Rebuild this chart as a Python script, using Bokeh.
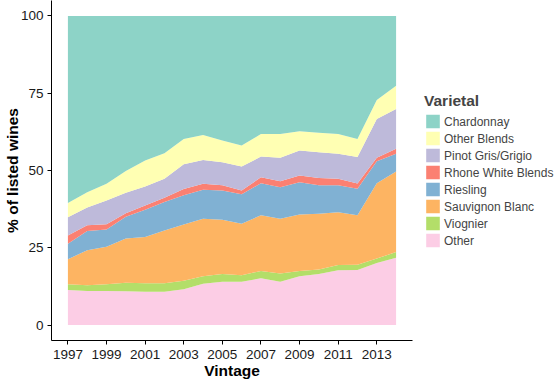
from bokeh.plotting import figure
from bokeh.models import ColumnDataSource, FixedTicker, Legend, LegendItem, Range1d
from bokeh.embed import file_html
from bokeh.resources import INLINE

years = list(range(1997, 2015))
other = [11.3, 11.0, 11.0, 10.9, 10.8, 10.8, 11.6, 13.4, 14.0, 14.0, 15.1, 14.0, 15.8, 16.5, 17.7, 17.8, 20.1, 21.8]
viognier = [1.9, 1.9, 2.2, 2.8, 2.7, 2.7, 2.7, 2.4, 2.5, 2.1, 2.4, 2.7, 1.7, 1.5, 1.7, 1.7, 1.4, 1.8]
sauvignon_blanc = [8.1, 11.3, 12.1, 14.3, 15.0, 17.1, 18.2, 18.6, 17.6, 16.7, 18.0, 17.7, 18.3, 18.0, 17.1, 16.0, 24.4, 26.1]
riesling = [5.0, 6.2, 5.6, 7.0, 8.8, 9.2, 9.5, 9.4, 9.4, 9.5, 10.4, 10.2, 10.4, 9.2, 8.7, 8.6, 7.1, 5.7]
rhone_white_blends = [2.7, 1.9, 1.7, 1.2, 1.4, 1.4, 2.0, 1.9, 1.7, 1.2, 1.9, 1.9, 2.2, 2.4, 2.1, 1.7, 1.1, 1.6]
pinot_gris_grigio = [5.9, 5.7, 7.7, 6.6, 6.1, 6.1, 8.0, 7.7, 7.5, 7.8, 6.7, 7.6, 8.1, 8.3, 8.1, 8.6, 12.6, 12.9]
other_blends = [4.6, 5.0, 5.4, 7.0, 8.4, 8.3, 8.2, 8.1, 7.0, 6.8, 7.3, 7.7, 6.2, 6.3, 6.4, 5.8, 6.1, 7.5]
chardonnay = [60.5, 57.0, 54.3, 50.2, 46.8, 44.4, 39.8, 38.5, 40.3, 41.9, 38.2, 38.2, 37.3, 37.8, 38.2, 39.8, 27.2, 22.6]

# stacking order bottom -> top
names = ["Other", "Viognier", "Sauvignon Blanc", "Riesling", "Rhone White Blends",
         "Pinot Gris/Grigio", "Other Blends", "Chardonnay"]
keys = ["other", "viognier", "sauvignon_blanc", "riesling", "rhone_white_blends",
        "pinot_gris_grigio", "other_blends", "chardonnay"]
colors = ["#FCCDE5", "#B3DE69", "#FDB462", "#80B1D3", "#FB8072", "#BEBADA", "#FFFFB3", "#8DD3C7"]
x_ticks = [1997, 1999, 2001, 2003, 2005, 2007, 2009, 2011, 2013]
y_ticks = [0, 25, 50, 75, 100]

source = ColumnDataSource(dict(
    year=years, other=other, viognier=viognier, sauvignon_blanc=sauvignon_blanc,
    riesling=riesling, rhone_white_blends=rhone_white_blends,
    pinot_gris_grigio=pinot_gris_grigio, other_blends=other_blends, chardonnay=chardonnay))

FONT = "Liberation Sans"

p = figure(frame_width=361, frame_height=340, output_backend="svg", toolbar_location=None,
           x_range=Range1d(1996.15, 2014.85), y_range=Range1d(-5, 105),
           min_border_left=0, min_border_top=0, min_border_bottom=0, min_border_right=0)

renderers = p.varea_stack(stackers=keys, x="year", color=colors, source=source)

p.xgrid.grid_line_color = None
p.ygrid.grid_line_color = None
p.outline_line_color = None
p.background_fill_color = "white"

for ax in (p.xaxis[0], p.yaxis[0]):
    ax.axis_line_color = "black"
    ax.axis_line_width = 1
    ax.major_tick_line_color = "black"
    ax.major_tick_out = 4
    ax.major_tick_in = 0
    ax.minor_tick_line_color = None
    ax.major_label_text_font = FONT
    ax.major_label_text_font_size = "13.5px"
    ax.major_label_text_color = "#1a1a1a"
    ax.axis_label_text_font = FONT
    ax.axis_label_text_font_size = "15.5px"
    ax.axis_label_text_font_style = "bold"
    ax.axis_label_text_color = "black"

p.xaxis.axis_label_standoff = 0
p.yaxis.axis_label_standoff = -3
p.xaxis.major_label_standoff = 5
p.yaxis.major_label_standoff = 4
p.xaxis.ticker = FixedTicker(ticks=x_ticks)
p.yaxis.ticker = FixedTicker(ticks=y_ticks)
p.xaxis.axis_label = "Vintage"
p.yaxis.axis_label = "% of listed wines"

items = [LegendItem(label=n, renderers=[r]) for n, r in zip(names, renderers)][::-1]
legend = Legend(items=items, location="center_left", title="Varietal",
                title_text_font=FONT, title_text_font_size="15.5px",
                title_text_font_style="bold", title_standoff=3,
                label_text_font=FONT, label_text_font_size="12px",
                glyph_width=17, glyph_height=17, spacing=0, label_standoff=3,
                label_height=17, padding=2, margin=12,
                border_line_color=None, background_fill_alpha=0)
p.add_layout(legend, "right")

open("out.html", "w").write(file_html(p, INLINE))
